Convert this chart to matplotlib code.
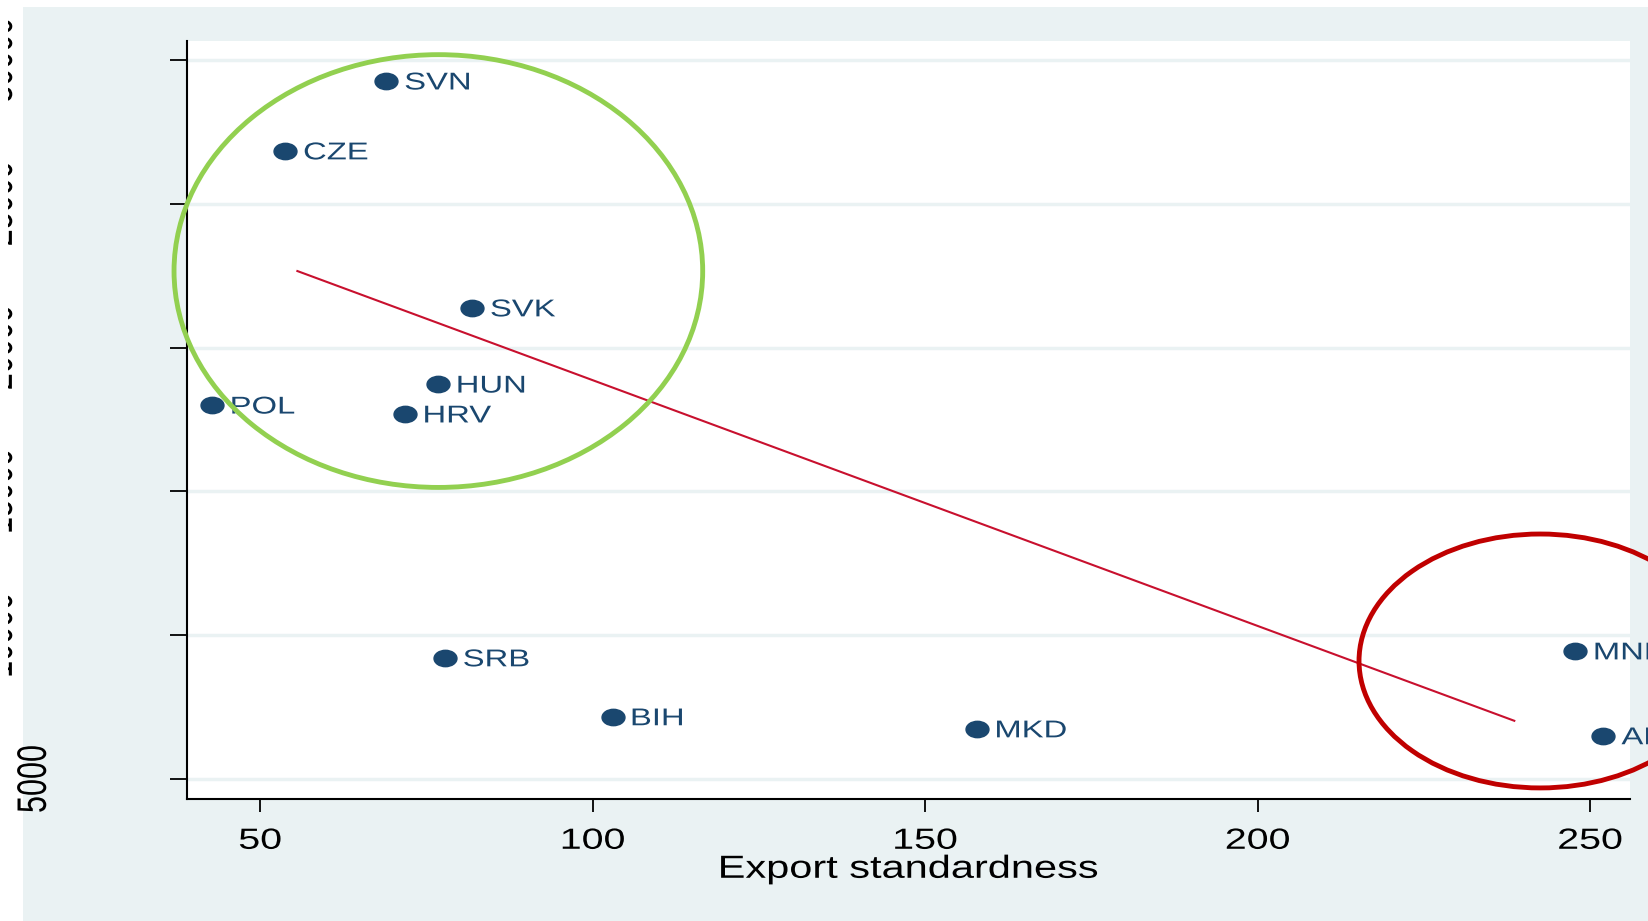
"""Scatter of GDP per capita vs export standardness, Stata s2color look."""

import matplotlib

matplotlib.use("Agg")
import matplotlib.pyplot as plt
from matplotlib.patches import Ellipse, Rectangle
from matplotlib.path import Path
from matplotlib.patheffects import AbstractPathEffect
from matplotlib.transforms import Affine2D, IdentityTransform, blended_transform_factory

# Data
countries = ["SVN", "CZE", "SVK", "HUN", "POL", "HRV", "SRB", "BIH", "MKD", "MNE", "ALB"]
export_std = [69.0, 53.8, 81.9, 76.8, 42.8, 71.8, 77.8, 103.0, 157.8, 247.8, 252.0]
gdp_pc = [29270, 26840, 21380, 18730, 18000, 17690, 9210, 7160, 6740, 9450, 6500]

# Fitted line end points
fit_x = [55.6, 238.6]
fit_y = [22660, 7020]

x_ticks = [50, 100, 150, 200, 250]
y_ticks = [5000, 10000, 15000, 20000, 25000, 30000]
y_tick_labels = ["5000", "10000", "15000", "20000", "25000", "30000"]

# Highlight circles: centre x, centre y, width, height
green_group = (76.8, 22660, 79.5, 15050)
red_group = (242.5, 9100, 54.5, 8830)

BG = "#EAF2F3"
NAVY = "#1A476F"
STRETCH = 1.35  # the original export is stretched sideways


class StretchX(AbstractPathEffect):
    """Widen text horizontally around its left, centre or right edge."""

    def __init__(self, sx, anchor="left"):
        super().__init__()
        self.sx = sx
        self.anchor = anchor

    def draw_path(self, renderer, gc, tpath, affine, rgbFace=None):
        ext = tpath.get_extents(affine)
        if self.anchor == "left":
            x0 = ext.x0
        elif self.anchor == "right":
            x0 = ext.x1
        else:
            x0 = (ext.x0 + ext.x1) / 2
        aff = affine + Affine2D().translate(-x0, 0).scale(self.sx, 1).translate(x0, 0)
        renderer.draw_path(gc, tpath, aff, rgbFace)


plt.rcParams["font.family"] = ["Liberation Sans", "DejaVu Sans"]

W, H = 1648, 921
fig = plt.figure(figsize=(W / 100, H / 100), dpi=100)
fig.patch.set_facecolor("white")
fig.add_artist(Rectangle((23 / W, 0), 1 - 23 / W, 1 - 7 / H, transform=fig.transFigure,
                         facecolor=BG, edgecolor="none", zorder=0))

ax = fig.add_axes([187 / W, 1 - 799 / H, (1630 - 187) / W, (799 - 41) / H])
ax.set_facecolor("white")
ax.set_xlim(39, 256)
ax.set_ylim(4300, 30660)

for side in ["top", "right"]:
    ax.spines[side].set_visible(False)
for side in ["left", "bottom"]:
    ax.spines[side].set_color("black")
    ax.spines[side].set_linewidth(1.5)

ax.set_yticks(y_ticks)
ax.set_yticklabels([])
ax.tick_params(axis="y", length=12, width=1.3, color="black")
ax.set_xticks(x_ticks)
ax.set_xticklabels([str(t) for t in x_ticks], fontsize=21)
ax.tick_params(axis="x", length=9, width=1.3, color="black", pad=11)
for lab in ax.get_xticklabels():
    lab.set_path_effects([StretchX(STRETCH, "center")])
ax.grid(axis="y", color=BG, linewidth=2.5)
ax.set_axisbelow(True)
ax.set_xlabel("Export standardness", fontsize=23, labelpad=0)
ax.xaxis.label.set_path_effects([StretchX(1.3, "center")])

# stretched dot like the original marker
marker_path = Path.unit_circle().transformed(Affine2D().scale(1.4, 1.0))
ax.scatter(export_std, gdp_pc, s=16.5 ** 2, marker=marker_path, color=NAVY, zorder=3)
for name, xv, yv in zip(countries, export_std, gdp_pc):
    ax.annotate(name, (xv, yv), xytext=(13, 0), textcoords="offset points",
                fontsize=17.5, color=NAVY, va="center_baseline", ha="left", zorder=4,
                annotation_clip=False, path_effects=[StretchX(STRETCH, "left")])

ax.plot(fit_x, fit_y, color="#C8102E", linewidth=1.5, zorder=2)

for (cx, cy, ew, eh), col in [(green_group, "#92D050"), (red_group, "#C00000")]:
    ax.add_patch(Ellipse((cx, cy), ew, eh, fill=False, edgecolor=col, linewidth=3.5,
                         zorder=5, clip_on=False))

# y labels: "5000" fully shown, the rest cut off at the left edge of the picture
trans = blended_transform_factory(IdentityTransform(), ax.transData)
for val, lab in zip(y_ticks, y_tick_labels):
    xpix = 46 if lab == "5000" else 12
    fig.text(xpix, val, lab, transform=trans, rotation=90, rotation_mode="anchor",
             ha="center", va="baseline", fontsize=22, color="black",
             path_effects=[StretchX(STRETCH, "right")])

# white margin that hides most of the cut labels
fig.add_artist(Rectangle((0, 0), 8 / W, 1, transform=fig.transFigure,
                         facecolor="white", edgecolor="none", zorder=10))

fig.savefig("out.png", dpi=100, facecolor=fig.get_facecolor())
